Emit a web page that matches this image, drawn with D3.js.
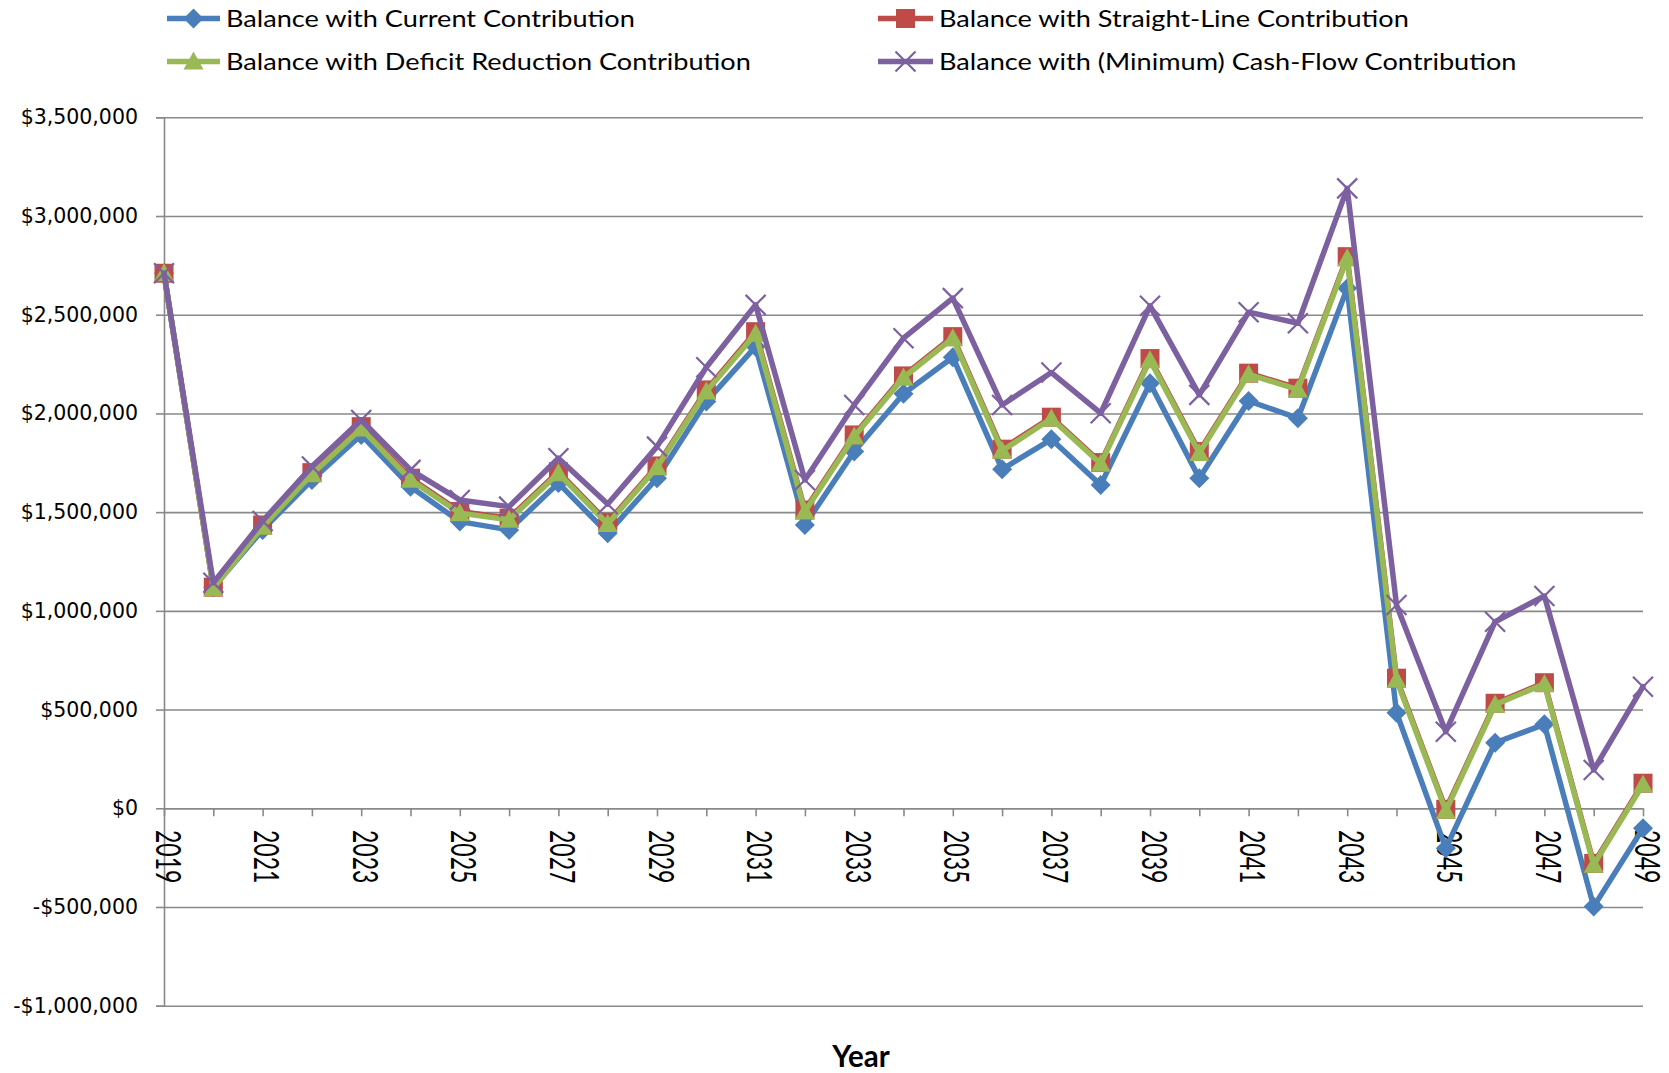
<!DOCTYPE html>
<html>
<head>
<meta charset="utf-8">
<script src="https://cdn.jsdelivr.net/npm/d3@7"></script>
<style>
  html, body { margin: 0; background: #ffffff; }
  svg { display: block; }
</style>
</head>
<body>
<svg id="chart" width="1669" height="1073"></svg>
<script>
// Fund balance projections under four contribution policies
const years = [2019, 2020, 2021, 2022, 2023, 2024, 2025, 2026, 2027, 2028,
               2029, 2030, 2031, 2032, 2033, 2034, 2035, 2036, 2037, 2038,
               2039, 2040, 2041, 2042, 2043, 2044, 2045, 2046, 2047, 2048, 2049];

const currentContribution = [2710000, 1119000, 1410000, 1663000, 1891000, 1629000, 1452000, 1410000, 1647000, 1393000,
                             1672000, 2060000, 2338000, 1435000, 1807000, 2100000, 2285000, 1717000, 1869000, 1638000,
                             2153000, 1672000, 2063000, 1976000, 2634000, 484000, -203000, 332000, 425000, -498000, -101000];

const straightLineContribution = [2710000, 1120000, 1435000, 1700000, 1933000, 1672000, 1503000, 1469000, 1705000, 1448000,
                                  1734000, 2119000, 2414000, 1511000, 1891000, 2190000, 2389000, 1819000, 1981000, 1751000,
                                  2278000, 1807000, 2204000, 2128000, 2794000, 659000, -5000, 532000, 636000, -279000, 127000];

const deficitReductionContribution = [2710000, 1114000, 1426000, 1692000, 1924000, 1664000, 1495000, 1461000, 1697000, 1440000,
                                      1727000, 2111000, 2404000, 1503000, 1883000, 2182000, 2381000, 1811000, 1974000, 1745000,
                                      2270000, 1800000, 2198000, 2121000, 2786000, 651000, -13000, 525000, 630000, -286000, 120000];

const cashFlowContribution = [2710000, 1142000, 1455000, 1731000, 1967000, 1714000, 1562000, 1528000, 1773000, 1541000,
                              1832000, 2234000, 2550000, 1663000, 2043000, 2381000, 2584000, 2043000, 2207000, 2001000,
                              2545000, 2094000, 2513000, 2457000, 3140000, 1030000, 388000, 945000, 1075000, 194000, 616000];

const seriesNames = [
  "Balance with Current Contribution",
  "Balance with Straight-Line Contribution",
  "Balance with Deficit Reduction Contribution",
  "Balance with (Minimum) Cash-Flow Contribution"
];

const yTickValues = [-1000000, -500000, 0, 500000, 1000000, 1500000, 2000000, 2500000, 3000000, 3500000];
const yTickLabels = ["-$1,000,000", "-$500,000", "$0", "$500,000", "$1,000,000", "$1,500,000",
                     "$2,000,000", "$2,500,000", "$3,000,000", "$3,500,000"];
const xTickLabels = ["2019", "2021", "2023", "2025", "2027", "2029", "2031", "2033",
                     "2035", "2037", "2039", "2041", "2043", "2045", "2047", "2049"];
const xAxisTitle = "Year";

// ---- layout ----
const svg = d3.select("#chart");
const plot = { left: 164, right: 1643, top: 117.3, bottom: 1005.7 };
const gridColor = "#898989";
const tickFont = "'DejaVu Sans', Verdana, sans-serif";
const legendFont = "Lato, 'Open Sans', sans-serif";

const x = d3.scaleLinear().domain([years[0], years[years.length - 1]]).range([plot.left, plot.right]);
const y = d3.scaleLinear().domain([yTickValues[0], yTickValues[yTickValues.length - 1]]).range([plot.bottom, plot.top]);

// horizontal gridlines
const grid = svg.append("g")
  .attr("transform", `translate(${plot.left},0)`)
  .call(d3.axisLeft(y).tickValues(yTickValues).tickSize(-(plot.right - plot.left)).tickFormat(""));
grid.select(".domain").remove();
grid.selectAll("line").attr("stroke", gridColor).attr("stroke-width", 1.6);

// value axis with labels
const yAxis = svg.append("g")
  .attr("transform", `translate(${plot.left},0)`)
  .call(d3.axisLeft(y).tickValues(yTickValues).tickSize(8).tickPadding(18)
    .tickFormat((d, i) => yTickLabels[i]));
yAxis.select(".domain").attr("stroke", gridColor).attr("stroke-width", 1.6);
yAxis.selectAll("line").attr("stroke", gridColor).attr("stroke-width", 1.6);
yAxis.selectAll("text")
  .attr("fill", "#000")
  .style("font-family", tickFont)
  .style("font-size", "20.5px");

// category axis crossing at zero
const xAxis = svg.append("g")
  .attr("transform", `translate(0,${y(0)})`)
  .call(d3.axisBottom(x).tickValues(years).tickSize(8).tickSizeOuter(0).tickFormat(""));
xAxis.select(".domain").attr("stroke", gridColor).attr("stroke-width", 1.6);
xAxis.selectAll("line").attr("stroke", gridColor).attr("stroke-width", 1.6);

// rotated year labels
svg.append("g").selectAll("text")
  .data(xTickLabels)
  .join("text")
  .attr("transform", d => `translate(${x(+d) + 4},830) scale(1.5,1) rotate(90)`)
  .attr("dy", "0.36em")
  .attr("text-anchor", "start")
  .style("font-family", legendFont)
  .style("font-size", "23px")
  .attr("fill", "#000")
  .text(d => d);

// axis title
svg.append("text")
  .attr("x", 861)
  .attr("y", 1067)
  .attr("text-anchor", "middle")
  .style("font-family", legendFont)
  .style("font-weight", "bold")
  .style("font-size", "29.5px")
  .attr("fill", "#000")
  .text(xAxisTitle);

// ---- marker shapes ----
const markerPaths = {
  diamond: r => `M0,${-r}L${r},0L0,${r}L${-r},0Z`,
  square: r => `M${-r * 0.95},${-r * 0.95}H${r * 0.95}V${r * 0.95}H${-r * 0.95}Z`,
  triangle: r => `M0,${-r}L${r},${r * 0.8}L${-r},${r * 0.8}Z`,
  cross: r => `M${-r},${-r}L${r},${r}M${r},${-r}L${-r},${r}`
};

const series = [
  { name: seriesNames[0], values: currentContribution, color: "#4A7EBB", marker: "diamond" },
  { name: seriesNames[1], values: straightLineContribution, color: "#BE4B48", marker: "square" },
  { name: seriesNames[2], values: deficitReductionContribution, color: "#98B954", marker: "triangle" },
  { name: seriesNames[3], values: cashFlowContribution, color: "#7D60A0", marker: "cross" }
];

const line = d3.line().x((d, i) => x(years[i])).y(d => y(d));
const markerRadius = 10;

function drawMarker(sel, s) {
  if (s.marker === "cross") {
    sel.append("path").attr("d", markerPaths.cross(markerRadius))
      .attr("fill", "none").attr("stroke", s.color).attr("stroke-width", 2.2);
  } else {
    sel.append("path").attr("d", markerPaths[s.marker](markerRadius))
      .attr("fill", s.color);
  }
}

const seriesG = svg.append("g");
series.forEach(s => {
  const g = seriesG.append("g");
  g.append("path")
    .datum(s.values)
    .attr("d", line)
    .attr("fill", "none")
    .attr("stroke", s.color)
    .attr("stroke-width", 5.5)
    .attr("stroke-linejoin", "round")
    .attr("stroke-linecap", "round");
  g.selectAll("g.pt")
    .data(s.values)
    .join("g")
    .attr("class", "pt")
    .attr("transform", (d, i) => `translate(${x(years[i])},${y(d)})`)
    .each(function () { drawMarker(d3.select(this), s); });
});

// ---- legend ----
const legendSlots = [
  { lx: 167, rx: 220, ty: 18.5 },
  { lx: 878, rx: 933, ty: 18.5 },
  { lx: 167, rx: 220, ty: 61.5 },
  { lx: 878, rx: 933, ty: 61.5 }
];
const legend = svg.append("g");
series.forEach((s, i) => {
  const slot = legendSlots[i];
  const g = legend.append("g");
  g.append("line")
    .attr("x1", slot.lx).attr("x2", slot.rx)
    .attr("y1", slot.ty).attr("y2", slot.ty)
    .attr("stroke", s.color).attr("stroke-width", 5.5);
  const m = g.append("g").attr("transform", `translate(${(slot.lx + slot.rx) / 2},${slot.ty})`);
  drawMarker(m, s);
  g.append("text")
    .attr("transform", `translate(${slot.rx + 6},${slot.ty}) scale(1.18,1)`)
    .attr("dy", "0.36em")
    .style("font-family", legendFont)
    .style("font-size", "23px")
    .attr("fill", "#000")
    .text(s.name);
});
</script>
</body>
</html>
